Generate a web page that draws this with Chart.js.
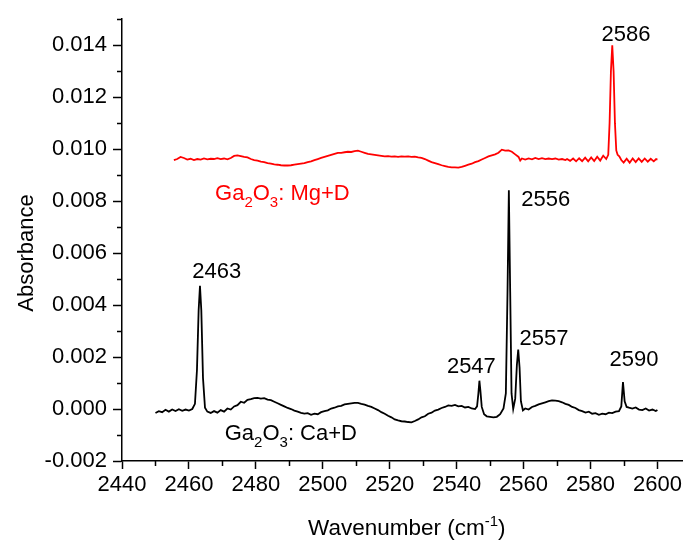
<!DOCTYPE html>
<html>
<head>
<meta charset="utf-8">
<script src="https://cdn.jsdelivr.net/npm/chart.js@4.4.1/dist/chart.umd.min.js"></script>
<style>
  html, body { margin: 0; padding: 0; background: #fff; }
</style>
</head>
<body>
<canvas id="spectrum" width="685" height="542"></canvas>
<script>
// Ga2O3:Ca+D spectrum (wavenumber cm-1, absorbance)
const caWave = [
  2450, 2451, 2452, 2453, 2454, 2455, 2456, 2457, 2458, 2459, 2460, 2461,
  2461.8, 2462.4, 2462.9, 2463.3, 2463.7, 2464.2, 2464.8,
  2465.5, 2466.5, 2467.5, 2468.5, 2469.5, 2470.5, 2471.5, 2472.5, 2473.5, 2474.5,
  2475.5, 2476.5, 2477.5, 2478.5, 2479.5, 2480.5, 2481.5, 2482.5, 2483.5, 2484.5,
  2485.5, 2486.5, 2487.5, 2488.5, 2489.5, 2490.5, 2491.5, 2492.5, 2493.5, 2494.5,
  2495.5, 2496.5, 2497.5, 2498.5, 2499.5, 2500.5, 2501.5, 2502.5, 2503.5, 2504.5,
  2505.5, 2506.5, 2507.5, 2508.5, 2509.5, 2510.5, 2511.5, 2512.5, 2513.5, 2514.5,
  2515.5, 2516.5, 2517.5, 2518.5, 2519.5, 2520.5, 2521.5, 2522.5, 2523.5, 2524.5,
  2525.5, 2526.5, 2527.5, 2528.5, 2529.5, 2530.5, 2531.5, 2532.5, 2533.5, 2534.5,
  2535.5, 2536.5, 2537.5, 2538.5, 2539.5, 2540.5, 2541.5, 2542.5, 2543.5, 2544.5,
  2545.5, 2546.1, 2546.5, 2546.8, 2547.1, 2547.5, 2548.2, 2549, 2550, 2551, 2552, 2553,
  2554, 2554.7, 2555.2, 2555.6, 2556, 2556.4, 2556.9,
  2557.5, 2558, 2558.4, 2558.8, 2559.2, 2559.8,
  2560.5, 2561.5, 2562.5, 2563.5, 2564.5, 2565.5, 2566.5, 2567.5, 2568.5, 2569.5,
  2570.5, 2571.5, 2572.5, 2573.5, 2574.5, 2575.5, 2576.5, 2577.5, 2578.5, 2579.5,
  2580.5, 2581.5, 2582.5, 2583.5, 2584.5, 2585.5, 2586.5, 2587.5, 2588.5,
  2589.2, 2589.7, 2590.2, 2590.8,
  2591.5, 2592.5, 2593.5, 2594.5, 2595.5, 2596.5, 2597.5, 2598.5, 2599.5, 2600
];
const caAbs = [
  -0.00015, -0.00008, -0.00012, -0.00003, -0.00010, -0.00002, -0.00008, -0.00001, -0.00007, -0.00002, -0.00006, 0.00000,
  0.00020, 0.00150, 0.00380, 0.00474, 0.00380, 0.00120, 0.00005,
  -0.00010, -0.00015, -0.00008, -0.00014, -0.00004, -0.00010, 0.00002, -0.00002, 0.00010, 0.00015,
  0.00028, 0.00024, 0.00035, 0.00038, 0.00042, 0.00043, 0.00040, 0.00042, 0.00036, 0.00034,
  0.00028, 0.00022, 0.00016, 0.00010, 0.00004, 0.00000, -0.00006, -0.00010, -0.00015, -0.00018,
  -0.00016, -0.00022, -0.00018, -0.00020, -0.00012, -0.00008, -0.00005, 0.00002, 0.00005, 0.00010,
  0.00012, 0.00018, 0.00020, 0.00022, 0.00024, 0.00024, 0.00020, 0.00017, 0.00012, 0.00008,
  0.00002, -0.00004, -0.00012, -0.00018, -0.00026, -0.00032, -0.00040, -0.00044, -0.00047, -0.00048,
  -0.00050, -0.00051, -0.00046, -0.00040, -0.00032, -0.00028, -0.00018, -0.00014, -0.00006, -0.00002,
  0.00004, 0.00008, 0.00014, 0.00012, 0.00016, 0.00010, 0.00012, 0.00006, 0.00008, 0.00002,
  0.00000, 0.00010, 0.00060, 0.00109, 0.00070, 0.00008, -0.00020, -0.00028, -0.00030, -0.00032, -0.00030, -0.00020,
  0.00002, 0.00060, 0.00450, 0.00842, 0.00450, 0.00060, 0.00000,
  0.00040, 0.00170, 0.00229, 0.00160, 0.00030, -0.00005,
  0.00002, -0.00002, 0.00008, 0.00012, 0.00018, 0.00022, 0.00026, 0.00030, 0.00033, 0.00032,
  0.00030, 0.00026, 0.00020, 0.00016, 0.00008, 0.00004, -0.00004, -0.00008, -0.00014, -0.00010,
  -0.00018, -0.00016, -0.00022, -0.00018, -0.00020, -0.00014, -0.00016, -0.00010, -0.00008,
  0.00010, 0.00104, 0.00030, 0.00008,
  0.00005, 0.00002, 0.00006, -0.00002, -0.00004, 0.00002, -0.00006, -0.00002, -0.00008, -0.00004
];

// Ga2O3:Mg+D spectrum
const mgWave = [
  2455.5, 2456.5, 2457.5, 2458.5, 2459.5, 2460.5, 2461.5, 2462.5, 2463.5, 2464.5,
  2465.5, 2466.5, 2467.5, 2468.5, 2469.5, 2470.5, 2471.5, 2472.5, 2473.5, 2474.5,
  2475.5, 2476.5, 2477.5, 2478.5, 2479.5, 2480.5, 2481.5, 2482.5, 2483.5, 2484.5,
  2485.5, 2486.5, 2487.5, 2488.5, 2489.5, 2490.5, 2491.5, 2492.5, 2493.5, 2494.5,
  2495.5, 2496.5, 2497.5, 2498.5, 2499.5, 2500.5, 2501.5, 2502.5, 2503.5, 2504.5,
  2505.5, 2506.5, 2507.5, 2508.5, 2509.5, 2510.5, 2511.5, 2512.5, 2513.5, 2514.5,
  2515.5, 2516.5, 2517.5, 2518.5, 2519.5, 2520.5, 2521.5, 2522.5, 2523.5, 2524.5,
  2525.5, 2526.5, 2527.5, 2528.5, 2529.5, 2530.5, 2531.5, 2532.5, 2533.5, 2534.5,
  2535.5, 2536.5, 2537.5, 2538.5, 2539.5, 2540.5, 2541.5, 2542.5, 2543.5, 2544.5,
  2545.5, 2546.5, 2547.5, 2548.5, 2549.5, 2550.5, 2551.5, 2552.5, 2553.5, 2554.5,
  2555.5, 2556.5, 2557.5, 2558.5, 2559, 2559.5, 2560.5, 2561.5, 2562.5, 2563.5,
  2564.5, 2565.5, 2566.5, 2567.5, 2568.5, 2569.5, 2570.5, 2571.5, 2572.5,
  2573.0, 2573.9, 2574.8, 2575.7, 2576.6, 2577.5, 2578.4, 2579.3, 2580.2, 2581.1,
  2582.0, 2582.9, 2583.8, 2584.7, 2585.3,
  2585.7, 2586.1, 2586.5, 2586.9, 2587.3, 2587.7,
  2588.1, 2588.6, 2589.2, 2589.9, 2590.8, 2591.7, 2592.6, 2593.5, 2594.4, 2595.3,
  2596.2, 2597.1, 2598.0, 2598.9, 2599.6, 2600
];
const mgAbs = [
  0.00958, 0.00962, 0.00970, 0.00966, 0.00960, 0.00963, 0.00958, 0.00962, 0.00960, 0.00964,
  0.00961, 0.00963, 0.00962, 0.00965, 0.00962, 0.00964, 0.00961, 0.00966, 0.00974, 0.00976,
  0.00973, 0.00970, 0.00968, 0.00962, 0.00958, 0.00956, 0.00952, 0.00950, 0.00946, 0.00944,
  0.00941, 0.00940, 0.00938, 0.00937, 0.00937, 0.00938, 0.00940, 0.00942, 0.00944, 0.00946,
  0.00950, 0.00953, 0.00958, 0.00962, 0.00966, 0.00970, 0.00974, 0.00978, 0.00982, 0.00986,
  0.00986, 0.00988, 0.00990, 0.00989, 0.00992, 0.00994, 0.00990, 0.00986, 0.00982, 0.00980,
  0.00978, 0.00976, 0.00974, 0.00972, 0.00973, 0.00971, 0.00972, 0.00970, 0.00972, 0.00971,
  0.00972, 0.00970, 0.00971, 0.00968, 0.00966, 0.00962, 0.00956, 0.00950, 0.00946, 0.00942,
  0.00938, 0.00935, 0.00932, 0.00930, 0.00930, 0.00929, 0.00932, 0.00936, 0.00940, 0.00944,
  0.00950, 0.00954, 0.00960, 0.00966, 0.00972, 0.00976, 0.00980, 0.00986, 0.00998, 0.00994,
  0.00995, 0.00990, 0.00980, 0.00970, 0.00956, 0.00964, 0.00960, 0.00964, 0.00961, 0.00966,
  0.00962, 0.00965, 0.00962, 0.00964, 0.00962, 0.00964, 0.00960, 0.00962, 0.00958,
  0.00962, 0.00955, 0.00964, 0.00953, 0.00965, 0.00954, 0.00967, 0.00953, 0.00968, 0.00954,
  0.00971, 0.00956, 0.00975, 0.00962, 0.00978,
  0.01100, 0.01300, 0.01400, 0.01300, 0.01100, 0.00995,
  0.00978, 0.00972, 0.00958, 0.00948, 0.00963, 0.00948, 0.00964, 0.00950, 0.00964, 0.00951,
  0.00964, 0.00952, 0.00963, 0.00953, 0.00962, 0.00960
];

// peak positions printed over the bands
const peakNames = ['2463', '2547', '2556', '2557', '2586', '2590'];

const FONT = "'Liberation Sans', Arial, Helvetica, sans-serif";
const xMinor = [2450, 2470, 2490, 2510, 2530, 2550, 2570, 2590];
const yMinor = [-0.001, 0.001, 0.003, 0.005, 0.007, 0.009, 0.011, 0.013, 0.015];

// label anchors in data units (centre x, baseline y)
const peakAnchors = [
  [2468.3, 0.00506], [2544.4, 0.00138], [2566.6, 0.00780],
  [2566.1, 0.00248], [2590.6, 0.01417], [2593.0, 0.00164]
];

// parts: [text, 0 normal | 1 subscript | 2 superscript]
function richText(ctx, parts, x, y, size, align) {
  const small = Math.round(size * 0.68);
  let total = 0;
  for (const p of parts) {
    ctx.font = (p[1] ? small : size) + 'px ' + FONT;
    total += ctx.measureText(p[0]).width;
  }
  let cx = align === 'center' ? x - total / 2 : x;
  ctx.textAlign = 'left';
  ctx.textBaseline = 'alphabetic';
  for (const p of parts) {
    ctx.font = (p[1] ? small : size) + 'px ' + FONT;
    const dy = p[1] === 1 ? size * 0.33 : (p[1] === 2 ? -size * 0.38 : 0);
    ctx.fillText(p[0], cx, y + dy);
    cx += ctx.measureText(p[0]).width;
  }
}

const decor = {
  id: 'decor',
  afterDraw(chart) {
    const ctx = chart.ctx;
    const xs = chart.scales.x, ys = chart.scales.y;
    const area = chart.chartArea;
    ctx.save();

    // minor ticks
    ctx.strokeStyle = '#000';
    ctx.lineWidth = 1.5;
    ctx.beginPath();
    xMinor.forEach(v => {
      const px = Math.round(xs.getPixelForValue(v)) + 0.5;
      ctx.moveTo(px, area.bottom);
      ctx.lineTo(px, area.bottom + 5);
    });
    yMinor.forEach(v => {
      const py = Math.round(ys.getPixelForValue(v)) + 0.5;
      ctx.moveTo(area.left - 5, py);
      ctx.lineTo(area.left, py);
    });
    ctx.stroke();

    // peak labels
    ctx.fillStyle = '#000';
    peakNames.forEach((name, i) => {
      const a = peakAnchors[i];
      richText(ctx, [[name, 0]], xs.getPixelForValue(a[0]), ys.getPixelForValue(a[1]), 22, 'center');
    });

    // sample labels
    ctx.fillStyle = '#ff0000';
    richText(ctx, [['Ga', 0], ['2', 1], ['O', 0], ['3', 1], [': Mg+D', 0]],
      xs.getPixelForValue(2467.8), ys.getPixelForValue(0.00806), 22, 'left');
    ctx.fillStyle = '#000';
    richText(ctx, [['Ga', 0], ['2', 1], ['O', 0], ['3', 1], [': Ca+D', 0]],
      xs.getPixelForValue(2470.7), ys.getPixelForValue(-0.00120), 22, 'left');

    // axis titles
    richText(ctx, [['Wavenumber (cm', 0], ['-1', 2], [')', 0]], 308, 535, 22.5, 'left');
    ctx.translate(33, 253);
    ctx.rotate(-Math.PI / 2);
    richText(ctx, [['Absorbance', 0]], 0, 0, 22, 'center');

    ctx.restore();
  }
};

const tickFont = { family: FONT, size: 22 };

new Chart(document.getElementById('spectrum'), {
  type: 'line',
  data: {
    datasets: [
      {
        label: 'Ca+D',
        data: caWave.map((w, i) => ({ x: w, y: caAbs[i] })),
        borderColor: '#000000',
        borderWidth: 1.8,
        pointRadius: 0,
        tension: 0,
        fill: false
      },
      {
        label: 'Mg+D',
        data: mgWave.map((w, i) => ({ x: w, y: mgAbs[i] })),
        borderColor: '#ff0000',
        borderWidth: 1.8,
        pointRadius: 0,
        tension: 0,
        fill: false
      }
    ]
  },
  options: {
    responsive: false,
    animation: false,
    layout: { padding: { top: 13, right: 2, left: 0, bottom: 0 } },
    plugins: { legend: { display: false }, tooltip: { enabled: false } },
    scales: {
      x: {
        type: 'linear',
        min: 2440,
        max: 2607.5,
        afterFit: s => { s.height = 81; },
        border: { color: '#000', width: 1.5 },
        grid: { drawOnChartArea: false, drawTicks: true, tickLength: 8, tickColor: '#000', tickWidth: 1.5 },
        ticks: {
          stepSize: 20, includeBounds: false, autoSkip: false, maxRotation: 0,
          color: '#000', font: tickFont, padding: 3,
          callback: v => String(v)
        }
      },
      y: {
        min: -0.002,
        max: 0.015,
        afterFit: s => { s.width = 122; },
        border: { color: '#000', width: 1.5 },
        grid: { drawOnChartArea: false, drawTicks: true, tickLength: 9, tickColor: '#000', tickWidth: 1.5 },
        ticks: {
          stepSize: 0.002, includeBounds: false, autoSkip: false,
          color: '#000', font: tickFont, padding: 6,
          callback: v => (Math.abs(v) < 1e-9 ? 0 : v).toFixed(3)
        }
      }
    }
  },
  plugins: [decor]
});
</script>
</body>
</html>
